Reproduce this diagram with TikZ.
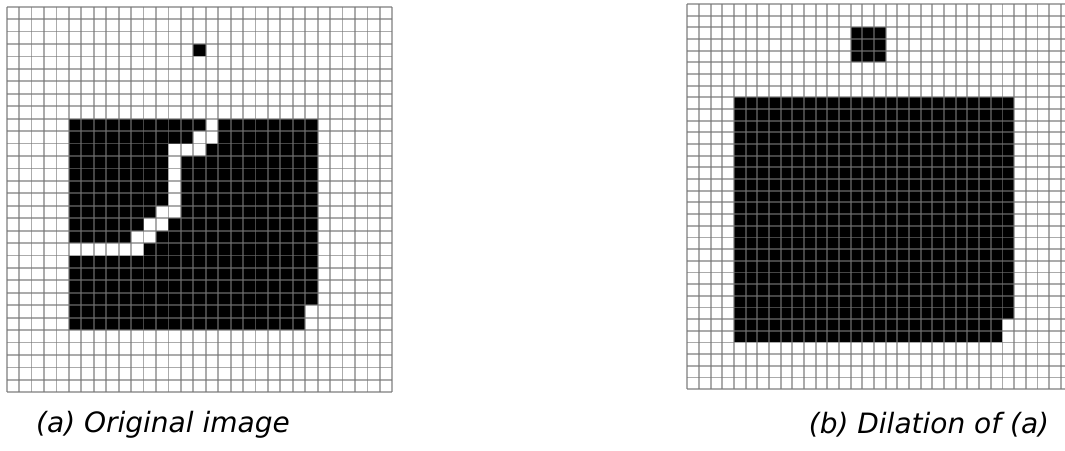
\documentclass[tikz,border=0pt]{standalone}
\usepackage{fontspec}
\setmainfont{DejaVu Sans}
\tikzset{
  gridline/.style={draw=black!55,line width=0.9pt,opacity=0.6},
  captext/.style={font=\itshape\fontsize{14pt}{16pt}\selectfont,inner sep=0pt}}
\newcommand{\pgrid}[2]{%
  \foreach \i in {0,...,#1}{\draw[gridline] (\i,0) -- (\i,#2);}
  \foreach \j in {0,...,#2}{\draw[gridline] (0,\j) -- (#1,\j);}}
\newcommand{\pblock}[4]{\fill (#1,#2) rectangle (#3,#4);}
\newcommand{\pgap}[2]{\fill[white] (#1,#2) rectangle ++(1,1);}

\begin{document}
\begin{tikzpicture}[x=0.5pt,y=-0.5pt]
  \useasboundingbox (0,0) rectangle (1065,450);
  \clip (0,0) rectangle (1065,450);
  % (a) original image
  \begin{scope}[shift={(6.7,6.7)},scale=12.44]
    \pblock{5}{9}{25}{26}
    \foreach \c/\r in {16/9,15/10,16/10,13/11,14/11,15/11,13/12,13/13,13/14,
      13/15,12/16,13/16,11/17,12/17,10/18,11/18}{\pgap{\c}{\r}}
    \foreach \c in {5,...,10}{\pgap{\c}{19}}
    \pgap{24}{24} \pgap{24}{25}
    \pblock{15}{3}{16}{4}
    \pgrid{31}{31}
  \end{scope}
  % (b) dilation of (a)
  \begin{scope}[shift={(687.3,4)},scale=11.67]
    \pblock{4}{8}{28}{29}
    \pgap{27}{27} \pgap{27}{28}
    \pblock{14}{2}{17}{5}
    \pgrid{33}{33}
  \end{scope}
  \node[captext] (capa) at (163,425) {(a) Original image};
  \node[captext] (capb) at (929,425) {(b) Dilation of (a)};
\end{tikzpicture}
\end{document}
